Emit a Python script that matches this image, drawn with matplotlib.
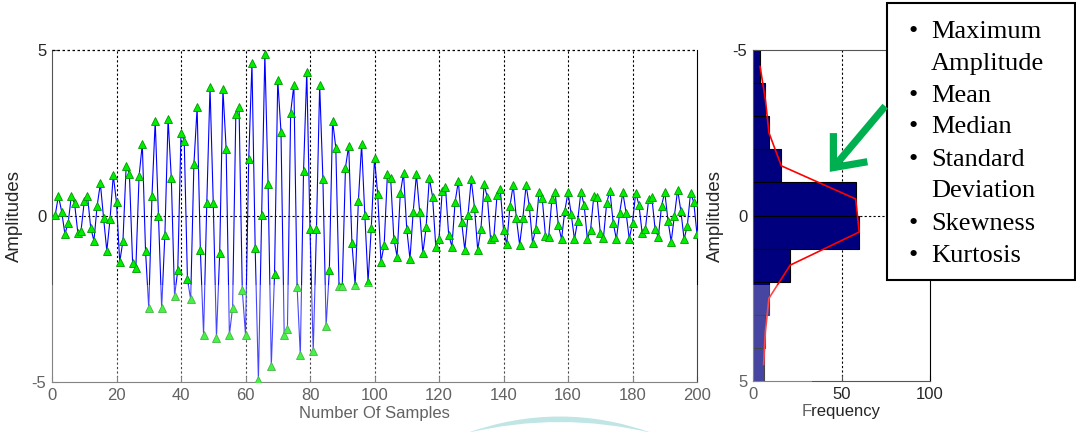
import matplotlib
matplotlib.use('Agg')
import matplotlib.pyplot as plt
from matplotlib.patches import Rectangle, PathPatch, FancyArrowPatch
from matplotlib.path import Path

# ---------------- data ----------------
samples = list(range(1, 201))
amplitudes = [
    0.03, 0.61, 0.13, -0.54, -0.22, 0.61, 0.38, -0.50, -0.45, 0.44,
    0.61, -0.35, -0.75, 0.31, 0.98, -0.07, -1.05, -0.09, 1.23, 0.41,
    -1.38, -0.75, 1.51, 1.26, -1.43, -1.57, 1.20, 2.17, -1.05, -2.78,
    0.60, 2.86, 0.01, -2.78, -0.57, 2.92, 1.13, -2.41, -1.63, 2.49,
    2.26, -1.91, -2.51, 1.56, 3.27, -1.02, -3.58, 0.40, 3.88, 0.40,
    -3.66, -1.10, 3.82, 2.02, -3.58, -2.76, 3.07, 3.27, -2.23, -3.58,
    1.71, 4.60, -0.97, -4.94, 0.03, 4.88, 0.96, -4.52, -1.75, 4.10,
    2.54, -3.58, -3.41, 3.11, 3.95, -2.13, -4.19, 1.36, 4.35, -0.39,
    -4.07, -0.39, 3.95, 1.11, -3.31, -1.63, 2.87, 2.06, -2.10, -2.11,
    1.46, 2.12, -0.82, -2.08, 0.45, 2.16, 0.03, -1.98, -0.37, 1.74,
    0.65, -1.38, -0.87, 1.26, 1.15, -0.69, -1.22, 0.68, 1.29, -0.39,
    -1.30, 0.13, 1.26, 0.13, -1.12, -0.34, 1.15, 0.58, -0.92, -0.69,
    0.76, 0.88, -0.57, -0.92, 0.43, 1.05, -0.17, -1.02, 0.03, 1.10,
    0.25, -1.02, -0.39, 0.95, 0.56, -0.70, -0.64, 0.63, 0.80, -0.42,
    -0.85, 0.30, 0.93, -0.07, -0.87, -0.07, 0.93, 0.30, -0.80, -0.39,
    0.71, 0.55, -0.59, -0.64, 0.50, 0.73, -0.27, -0.70, 0.15, 0.71,
    0.05, -0.70, -0.14, 0.73, 0.33, -0.69, -0.42, 0.61, 0.58, -0.50,
    -0.65, 0.40, 0.76, -0.20, -0.70, 0.08, 0.71, 0.10, -0.69, -0.20,
    0.70, 0.33, -0.52, -0.39, 0.50, 0.56, -0.39, -0.64, 0.30, 0.73,
    -0.14, -0.77, 0.01, 0.79, 0.15, -0.70, -0.29, 0.70, 0.41, -0.55,
]
hist_centers = [-4.5, -3.5, -2.5, -1.5, -0.5, 0.5, 1.5, 2.5, 3.5, 4.5]
hist_freq = [4, 7, 9, 16, 58, 60, 21, 9, 7, 6]

sample_ticks = [0, 20, 40, 60, 80, 100, 120, 140, 160, 180, 200]
amp_ticks = [-5, 0, 5]
freq_ticks = [0, 50, 100]
features = [("\u2022", "Maximum"), ("", "Amplitude"), ("\u2022", "Mean"),
            ("\u2022", "Median"), ("\u2022", "Standard"), ("", "Deviation"),
            ("\u2022", "Skewness"), ("\u2022", "Kurtosis")]

# ---------------- figure ----------------
W, H = 1076, 432
plt.rcParams['font.family'] = ['Liberation Sans Narrow', 'Liberation Sans', 'DejaVu Sans']
plt.rcParams['font.size'] = 12
plt.rcParams['axes.unicode_minus'] = False
fig = plt.figure(figsize=(W / 100, H / 100), dpi=100)
fig.patch.set_facecolor('white')

def fpx(x, y):
    return (x / W, 1 - y / H)

dot = (0, (2, 2))
spine_col = '#555555'
txt_col = '#262626'

# ---- left axes ----
ax1 = fig.add_axes([52 / W, 1 - 382 / H, 645 / W, 332 / H])
ax1.plot(samples, amplitudes, color='#0000ff', lw=0.8, marker='^', ms=5.6,
         mfc='#00ee00', mec='#009900', mew=0.6, zorder=3)
ax1.set_xlim(0, 200)
ax1.set_ylim(-5, 5)
ax1.set_xticks(sample_ticks)
ax1.set_yticks(amp_ticks)
for xv in sample_ticks[1:-1]:
    ax1.axvline(xv, color='k', lw=0.8, ls=dot, zorder=1)
ax1.axhline(0, color='k', lw=0.8, ls=dot, zorder=1)
ax1.axhline(5, color='k', lw=0.9, ls=dot, zorder=4, clip_on=False)
ax1.spines['top'].set_visible(False)
for s in ['left', 'bottom']:
    ax1.spines[s].set_color(spine_col)
ax1.spines['right'].set_color('black')
ax1.tick_params(direction='in', length=4, colors=spine_col, labelcolor=txt_col,
                labelsize=12, pad=4)
ax1.set_xlabel('Number Of Samples', fontsize=12, color=txt_col)
ax1.set_ylabel('Amplitudes', fontsize=13.4, color=txt_col, family='Liberation Sans')
ax1.xaxis.set_label_coords(0.5, -0.072)
ax1.yaxis.set_label_coords(-0.045, 0.5)

# ---- right axes (histogram) ----
ax2 = fig.add_axes([753 / W, 1 - 381 / H, 177 / W, 331 / H])
ax2.barh(hist_centers, hist_freq, height=1.0, color='#00007f', edgecolor='black',
         lw=0.8, zorder=2)
ax2.plot(hist_freq, hist_centers, color='#ff0000', lw=1.2, zorder=3)
ax2.set_xlim(0, 100)
ax2.set_ylim(5, -5)
ax2.set_xticks(freq_ticks)
ax2.set_yticks(amp_ticks)
ax2.axvline(50, color='k', lw=0.8, ls=dot, zorder=1)
ax2.axhline(0, color='k', lw=0.8, ls=dot, zorder=1)
for s in ['left', 'bottom', 'top']:
    ax2.spines[s].set_color(spine_col)
ax2.spines['right'].set_color('black')
ax2.tick_params(direction='in', length=4, colors=spine_col, labelcolor=txt_col,
                labelsize=12, pad=4)
ax2.set_xlabel('Frequency', fontsize=12, color=txt_col)
ax2.set_ylabel('Amplitudes', fontsize=13.4, color=txt_col, family='Liberation Sans')
ax2.xaxis.set_label_coords(0.5, -0.07)
ax2.yaxis.set_label_coords(-0.165, 0.5)

# ---- faint watermark overlay (lower band) ----
fig.patches.append(Rectangle(fpx(0, 432), 812 / W, (432 - 285) / H,
                             transform=fig.transFigure, fc='white', ec='none',
                             alpha=0.28, zorder=4))
# teal swoosh
pts = [fpx(467, 433), fpx(560, 400), fpx(652, 433), fpx(560, 411), fpx(467, 433)]
swoosh = Path(pts, [Path.MOVETO, Path.CURVE3, Path.CURVE3, Path.CURVE3, Path.CURVE3])
fig.patches.append(PathPatch(swoosh, transform=fig.transFigure, fc='#bfe5e5',
                             ec='none', zorder=4))

# ---- text box ----
fig.patches.append(Rectangle(fpx(887, 280), 188 / W, 277 / H,
                             transform=fig.transFigure, fc='white', ec='black',
                             lw=1.5, zorder=5))
baselines = [38, 70, 102, 133, 166, 197, 230, 262]
for (bul, word), yb in zip(features, baselines):
    if bul:
        fig.text(*fpx(913, yb), bul, ha='center', va='baseline', fontsize=19,
                 family='Liberation Serif', color='black', zorder=6)
    fig.text(*fpx(931, yb), word, ha='left', va='baseline', fontsize=19,
             family='Liberation Serif', color='black', zorder=6)

# ---- green arrow ----
arrow = FancyArrowPatch(fpx(887, 104), fpx(828, 174), transform=fig.transFigure,
                        arrowstyle='->,head_length=0.95,head_width=0.8',
                        mutation_scale=20, lw=5.2, color='#00b050',
                        capstyle='butt', joinstyle='miter', zorder=7)
fig.patches.append(arrow)

fig.savefig('out.png', dpi=100, facecolor='white')
